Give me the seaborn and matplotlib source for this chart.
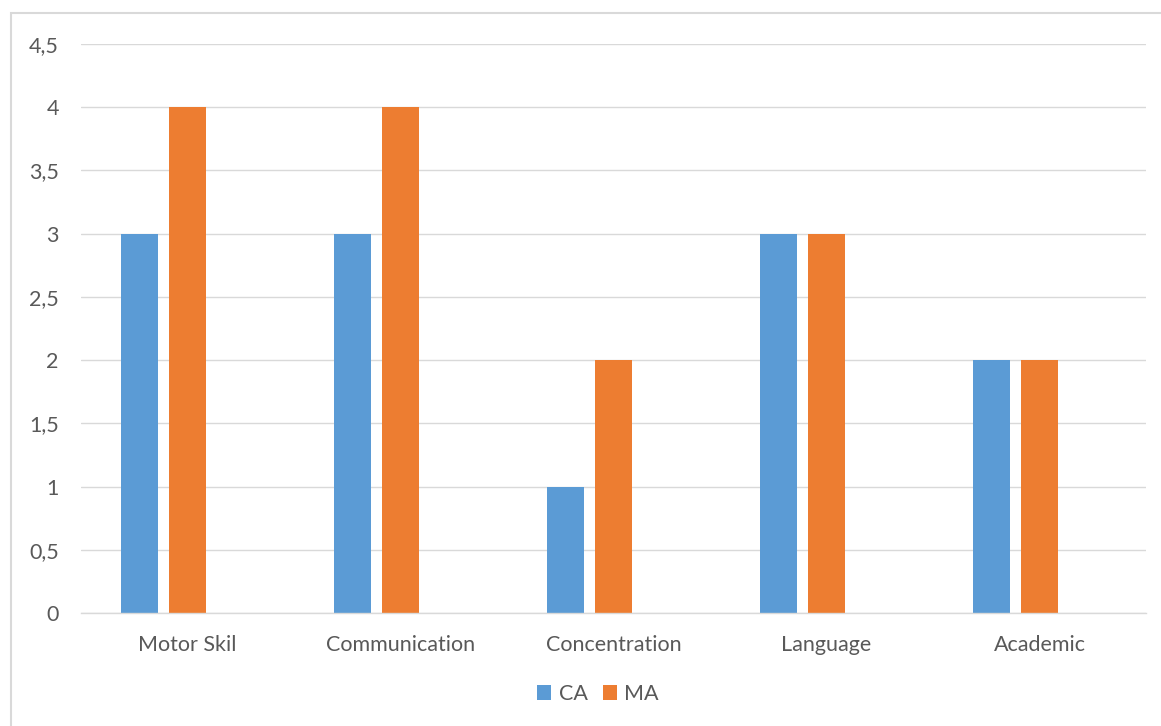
import matplotlib
matplotlib.use("Agg")
import matplotlib.pyplot as plt
import seaborn as sns
import pandas as pd
from matplotlib.patches import Patch, Rectangle

categories = ["Motor Skil", "Communication", "Concentration", "Language", "Academic"]
ca_values = [3, 3, 1, 3, 2]
ma_values = [4, 4, 2, 3, 2]
series = ["CA", "MA"]
y_ticks = [0, 0.5, 1, 1.5, 2, 2.5, 3, 3.5, 4, 4.5]
y_tick_labels = ["0", "0,5", "1", "1,5", "2", "2,5", "3", "3,5", "4", "4,5"]

colors = {"CA": "#5B9BD5", "MA": "#ED7D31", " ": (0, 0, 0, 0)}

rows = []
for c, a, m in zip(categories, ca_values, ma_values):
    rows.append({"cat": c, "series": "CA", "val": a})
    rows.append({"cat": c, "series": "MA", "val": m})
    rows.append({"cat": c, "series": " ", "val": 0})
df = pd.DataFrame(rows)

sns.set_theme(style="white")
plt.rcParams["font.family"] = ["Lato", "DejaVu Sans"]

fig = plt.figure(figsize=(11.61, 7.26), dpi=100)
ax = fig.add_axes([81 / 1161, 113 / 726, (1146 - 81) / 1161, (613 - 44) / 726])

sns.barplot(data=df, x="cat", y="val", hue="series", hue_order=["CA", "MA", " "],
            order=categories, palette=colors, width=0.675, gap=0.23,
            linewidth=0, ax=ax, legend=False, errorbar=None, saturation=1)

ax.set_ylim(0, 4.5)
ax.set_xlim(-0.5, len(categories) - 0.5)
ax.set_yticks(y_ticks)
ax.set_yticklabels(y_tick_labels)
ax.yaxis.grid(True, color="#D9D9D9", linewidth=1)
ax.set_axisbelow(True)
for s in ["top", "right", "left"]:
    ax.spines[s].set_visible(False)
ax.spines["bottom"].set_color("#D9D9D9")
ax.spines["bottom"].set_linewidth(1)
ax.tick_params(axis="both", length=0, labelsize=15.5, colors="#595959")
ax.tick_params(axis="y", pad=16)
ax.tick_params(axis="x", pad=16)
ax.set_xlabel("")
ax.set_ylabel("")

handles = [Patch(facecolor=colors[s], edgecolor="none") for s in series]
fig.legend(handles, series, loc="center", bbox_to_anchor=(598 / 1161, 1 - 694 / 726),
           ncol=2, frameon=False, fontsize=15.5, handlelength=0.65, handleheight=0.65,
           handletextpad=0.35, columnspacing=0.7, labelcolor="#595959")

fig.patches.append(Rectangle((11 / 1161, -0.01), 1.02, 1 - 13 / 726 + 0.01,
                             transform=fig.transFigure, fill=False,
                             edgecolor="#D9D9D9", linewidth=1.5))

fig.savefig("out.png", dpi=100)
